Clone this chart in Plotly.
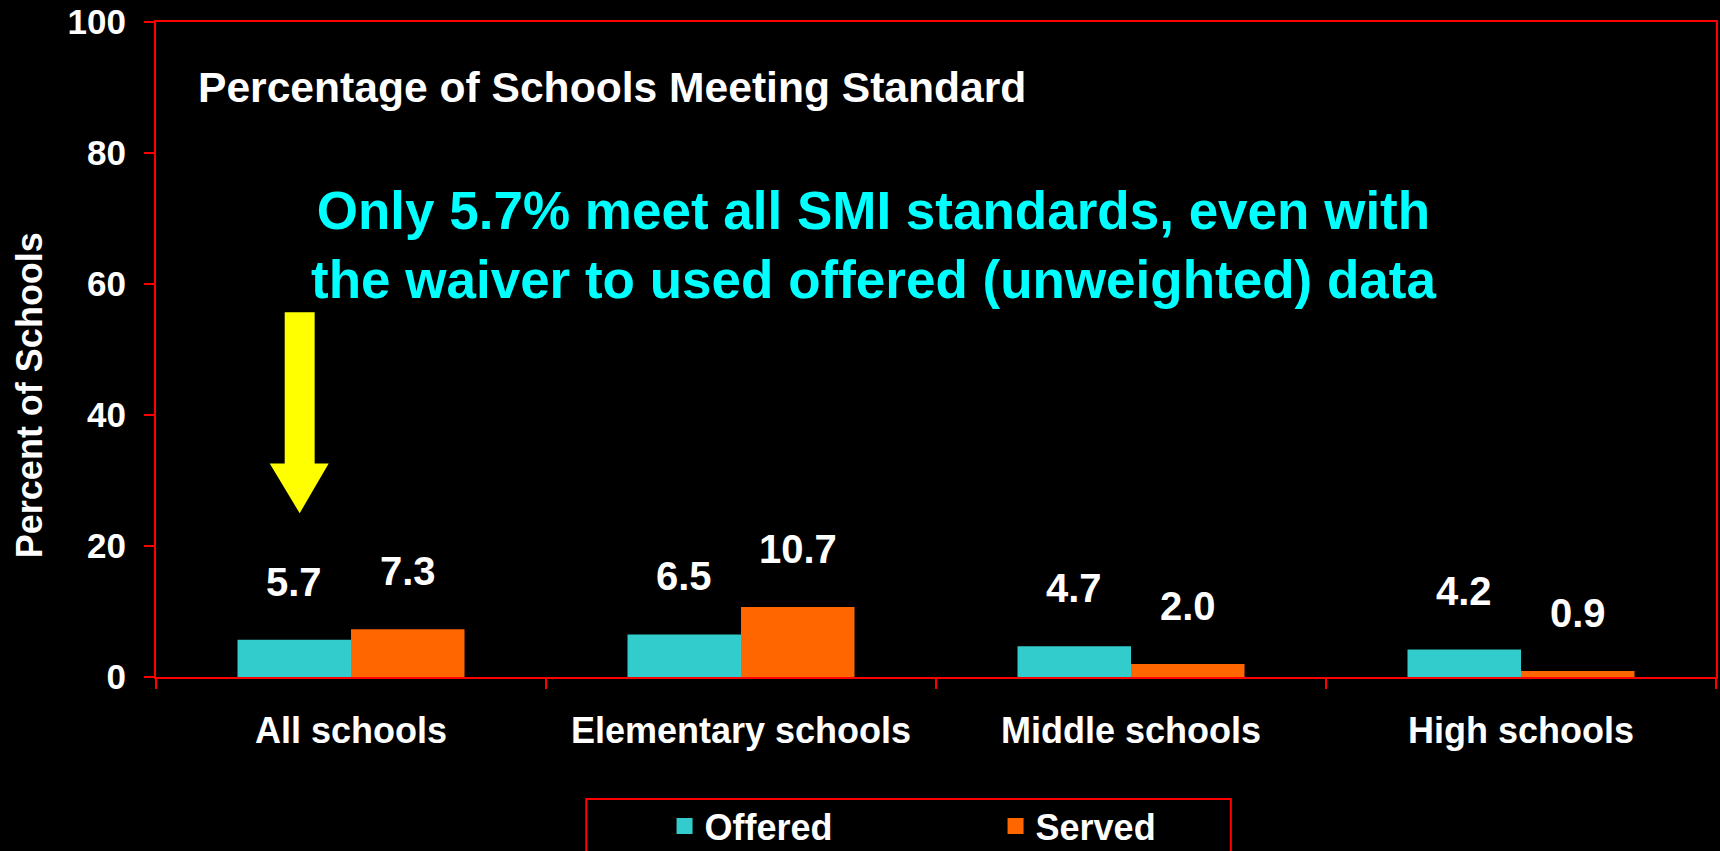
import plotly.graph_objects as go

categories = ["All schools", "Elementary schools", "Middle schools", "High schools"]
offered = [5.7, 6.5, 4.7, 4.2]
served = [7.3, 10.7, 2.0, 0.9]
series_names = ["Offered", "Served"]
y_ticks = [0, 20, 40, 60, 80, 100]

FONT = "Liberation Sans, Arial, sans-serif"
RED = "#FF0000"
CYAN_BAR = "#33CCCC"
ORANGE = "#FF6600"
BARGAP = 0.418

fig = go.Figure()
fig.add_trace(go.Bar(x=categories, y=offered, name=series_names[0], showlegend=False,
                     marker=dict(color=CYAN_BAR, line=dict(width=0))))
fig.add_trace(go.Bar(x=categories, y=served, name=series_names[1], showlegend=False,
                     marker=dict(color=ORANGE, line=dict(width=0))))
# legend entries with larger square swatches
for name, col in zip(series_names, [CYAN_BAR, ORANGE]):
    fig.add_trace(go.Scatter(x=[None], y=[None], mode="markers", name=name,
                             marker=dict(symbol="square", size=22, color=col),
                             hoverinfo="skip"))

annotations = []
off = (1 - BARGAP) / 4
for i, (o, s) in enumerate(zip(offered, served)):
    for xv, val in ((i - off, o), (i + off, s)):
        annotations.append(dict(x=xv, y=val, xref="x", yref="y", text=f"{val:.1f}",
                                showarrow=False, yanchor="middle", yshift=58,
                                font=dict(family=FONT, size=40, color="white", weight="bold")))

annotations.append(dict(x=0.0255, y=0.9015, xref="paper", yref="paper",
                        text="Percentage of Schools Meeting Standard", showarrow=False,
                        xanchor="left", yanchor="middle",
                        font=dict(family=FONT, size=42.6, color="white", weight="bold")))
annotations.append(dict(x=0.46, y=0.6595, xref="paper", yref="paper",
                        text="Only 5.7% meet all SMI standards, even with<br>the waiver to used offered (unweighted) data",
                        showarrow=False, xanchor="center", yanchor="middle", align="center",
                        font=dict(family=FONT, size=53, color="#00FFFF", weight="bold")))
annotations.append(dict(x=-0.0813, y=0.4305, xref="paper", yref="paper",
                        text="Percent of Schools", showarrow=False, textangle=-90,
                        xanchor="center", yanchor="middle",
                        font=dict(family=FONT, size=36, color="white", weight="bold")))

shapes = [
    dict(type="path", xref="paper", yref="y",
         path="M 0.0825,55.7 L 0.1017,55.7 L 0.1017,32.6 L 0.1107,32.6 L 0.0921,25.0 "
              "L 0.0729,32.6 L 0.0825,32.6 Z",
         fillcolor="#FFFF00", line=dict(width=0)),
    dict(type="rect", xref="paper", yref="paper", x0=0.2758, x1=0.689, y0=-0.1863, y1=-0.30,
         line=dict(color=RED, width=2), fillcolor="rgba(0,0,0,0)", layer="above"),
]

fig.update_layout(
    width=1720, height=851,
    margin=dict(l=156, r=2, t=22, b=174),
    paper_bgcolor="black", plot_bgcolor="black",
    barmode="group", bargap=BARGAP, bargroupgap=0,
    showlegend=True,
    legend=dict(orientation="h", x=0.326, xanchor="left",
                yref="container", y=0.0294, yanchor="middle",
                bgcolor="rgba(0,0,0,0)", borderwidth=0, itemsizing="trace",
                entrywidth=286, entrywidthmode="pixels",
                font=dict(family=FONT, size=36, color="white", weight="bold")),
    xaxis=dict(showline=True, linecolor=RED, linewidth=2, mirror=True,
               ticks="outside", tickson="boundaries", ticklen=10, tickcolor=RED, tickwidth=2,
               showgrid=False, zeroline=False, ticklabelstandoff=21,
               tickfont=dict(family=FONT, size=36, color="white", weight="bold")),
    yaxis=dict(range=[0, 100], tickvals=y_ticks, showline=True, linecolor=RED, linewidth=2,
               mirror=True, ticks="outside", ticklen=10, tickcolor=RED, tickwidth=2,
               showgrid=False, zeroline=False, ticklabelstandoff=11,
               tickfont=dict(family=FONT, size=35, color="white", weight="bold")),
    annotations=annotations,
    shapes=shapes,
)

fig.write_html("out.html", config={"displayModeBar": False},
               post_script="document.body.style.margin='0';document.body.style.background='black';"
                           "document.body.style.overflow='hidden';")
